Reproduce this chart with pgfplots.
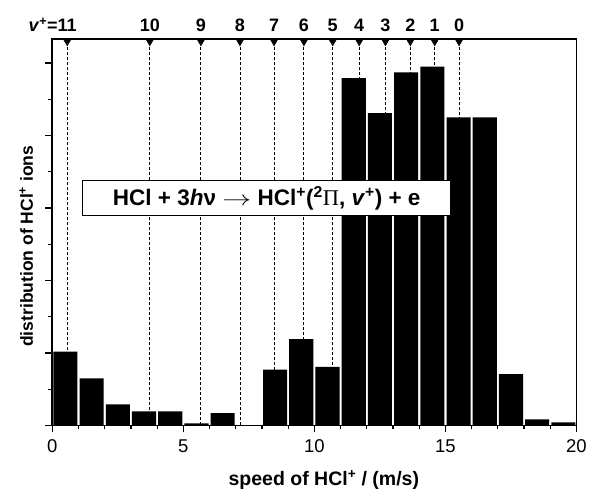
\documentclass[border=0pt]{standalone}
\usepackage{fontspec}
\setmainfont{Liberation Sans}
\newfontfamily\greekserif{Liberation Serif}
\usepackage{graphicx}
\usepackage{pgfplots}
\pgfplotsset{compat=1.18}
\begin{document}
\begin{tikzpicture}
\begin{axis}[
  name=ax,
  width=524.2pt, height=386.5pt, scale only axis,
  xmin=0, xmax=20, ymin=0, ymax=5.331,
  xtick={0,5,10,15,20}, minor x tick num=4,
  ytick={0,1,2,3,4,5}, minor y tick num=1, yticklabels={},
  tick align=outside, xtick pos=bottom, ytick pos=left,
  major tick length=7pt, minor tick length=4pt,
  every tick/.style={black, line width=1.2pt},
  axis line style={line width=1.6pt},
  xticklabel style={font=\fontsize{18.5}{20}\selectfont, yshift=-4pt},
  /pgf/number format/assume math mode=true,
  xlabel={speed of HCl\textsuperscript{+} / (m/s)},
  ylabel={distribution of HCl\textsuperscript{+} ions},
  xlabel style={font=\fontsize{19.5}{22}\selectfont\bfseries, at={(axis description cs:0.518,0)}, anchor=base, yshift=-60.5pt},
  ylabel style={font=\fontsize{17.5}{20}\selectfont\bfseries, at={(axis description cs:-0.0496,0.464)}, anchor=center},
  clip=false, axis on top,
]
% dashed guide lines for v+ levels
\addplot[ycomb, mark=none, black, line width=0.9pt, dash pattern=on 3pt off 2pt] table {
x y
0.57 5.331
3.72 5.331
5.67 5.331
7.16 5.331
8.46 5.331
9.60 5.331
10.70 5.331
11.71 5.331
12.71 5.331
13.66 5.331
14.59 5.331
15.52 5.331
};
% histogram bars
\addplot[ybar, bar width=0.92, fill=black, draw=none] table {
x y
0.5 1.02
1.5 0.65
2.5 0.29
3.5 0.196
4.5 0.196
5.5 0.03
6.5 0.17
7.5 0
8.5 0.77
9.5 1.19
10.5 0.81
11.5 4.79
12.5 4.31
13.5 4.87
14.5 4.95
15.5 4.25
16.5 4.25
17.5 0.71
18.5 0.085
19.5 0.044
};
% triangles at top
\addplot[only marks, mark=triangle*, mark size=4.6pt, mark options={rotate=180, fill=black, draw=black, solid}] table {
x y
0.57 5.299
3.72 5.299
5.67 5.299
7.16 5.299
8.46 5.299
9.60 5.299
10.70 5.299
11.71 5.299
12.71 5.299
13.66 5.299
14.59 5.299
15.52 5.299
};
% level labels
\addplot[draw=none, mark=none, nodes near coords, point meta=explicit symbolic,
  every node near coord/.append style={anchor=base, inner sep=0pt, font=\fontsize{18}{20}\selectfont\bfseries}] table[meta=label] {
x y label
0.57 5.432 {\llap{\textit{v}\textsuperscript{+}=}11}
3.72 5.432 10
5.67 5.432 9
7.16 5.432 8
8.46 5.432 7
9.60 5.432 6
10.70 5.432 5
11.71 5.432 4
12.71 5.432 3
13.66 5.432 2
14.59 5.432 1
15.52 5.432 0
};
\node[draw, fill=white, line width=1.5pt, minimum width=368pt, minimum height=35pt, inner sep=0pt,
  font=\fontsize{22.5}{24}\selectfont\bfseries] at (axis cs:8.18,3.135)
  {HCl + 3\textit{h}ν \scalebox{1.4}[1]{$\rightarrow$} HCl\textsuperscript{+}(\textsuperscript{2}{\greekserif\mdseries Π}, \textit{v}\textsuperscript{+}) + e};
\end{axis}
\pgfresetboundingbox
\path[use as bounding box] ([xshift=-52.3pt,yshift=-63.5pt]ax.south west) rectangle ([xshift=12.5pt,yshift=39pt]ax.north east);
\end{tikzpicture}
\end{document}
